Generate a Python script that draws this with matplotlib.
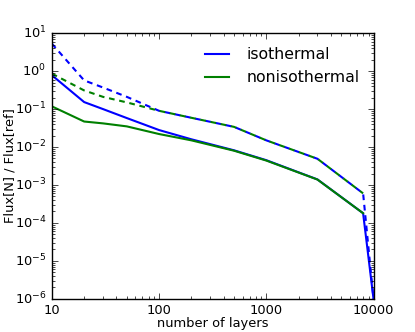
import numpy as np
import matplotlib
matplotlib.use('Agg')
import matplotlib.pyplot as plt
from matplotlib.ticker import FormatStrFormatter

# number of layers
layers = [10, 20, 30, 50, 100, 200, 500, 1000, 3000, 8000, 10000]

# Flux[N] / Flux[ref]
iso_solid = [0.78, 0.153, 0.10, 0.058, 0.028, 0.016, 0.0082, 0.0045, 1.4e-3, 1.8e-4, 1e-6]
iso_dashed = [5.3, 0.57, 0.37, 0.21, 0.09, 0.059, 0.034, 0.015, 4.9e-3, 6.0e-4, 1e-6]
noniso_solid = [0.118, 0.047, 0.042, 0.035, 0.022, 0.015, 0.008, 0.0044, 1.39e-3, 1.8e-4, np.nan]
noniso_dashed = [0.86, 0.31, 0.21, 0.15, 0.09, 0.059, 0.034, 0.015, 4.9e-3, 6.0e-4, np.nan]

plt.style.use('classic')
plt.rcParams['font.size'] = 9.4
plt.rcParams['mathtext.fontset'] = 'dejavusans'
plt.rcParams['mathtext.default'] = 'regular'

fig = plt.figure(figsize=(4.15, 3.32), dpi=100, facecolor='white')
ax = fig.add_subplot(111)

dash = (4.1, 3.4)
ax.plot(layers, iso_solid, color='b', lw=1.5, label='isothermal')
ax.plot(layers, iso_dashed, color='b', lw=1.5, ls='--', dashes=dash)
ax.plot(layers, noniso_solid, color='g', lw=1.5, label='nonisothermal')
ax.plot(layers, noniso_dashed, color='g', lw=1.5, ls='--', dashes=dash)

ax.set_xscale('log')
ax.set_yscale('log')
ax.set_xlim(10, 10000)
ax.set_ylim(1e-6, 10)
ax.xaxis.set_major_formatter(FormatStrFormatter('%d'))
ax.set_xlabel('number of layers')
ax.set_ylabel('Flux[N] / Flux[ref]')
ax.xaxis.set_label_coords(0.5, -0.07)
ax.yaxis.set_label_coords(-0.11, 0.5)

ax.legend(loc='upper right', frameon=False, fontsize=11.3, handlelength=1.5,
          handletextpad=1.1, numpoints=1)

fig.savefig('out.png', dpi=100, facecolor='white')
